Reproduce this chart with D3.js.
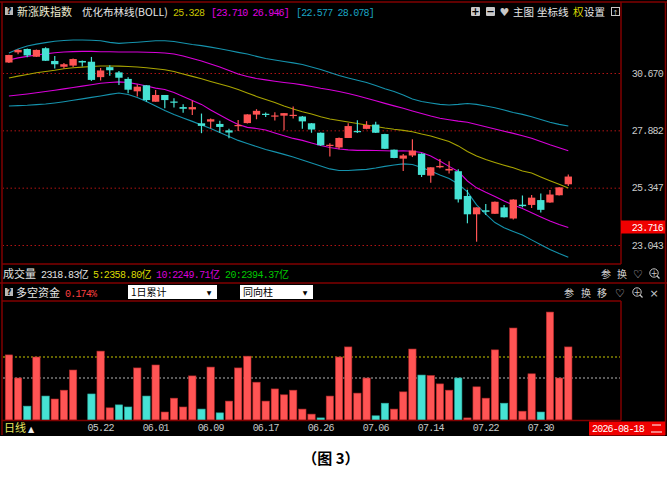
<!DOCTYPE html>
<html>
<head>
<meta charset="utf-8">
<script src="https://cdn.jsdelivr.net/npm/d3@7"></script>
<style>
  html, body { margin: 0; padding: 0; background: #fff; }
  svg { display: block; }
</style>
</head>
<body>
<svg id="chart" width="667" height="485"></svg>
<script>
// Daily index candles + BOLL bands, with the long/short money-flow bars underneath

const dates = ['05.08','05.11','05.12','05.13','05.14','05.15','05.18','05.19','05.20','05.21',
  '05.22','05.25','05.26','05.27','05.28','05.29','06.01','06.02','06.03','06.04',
  '06.05','06.08','06.09','06.10','06.11','06.12','06.15','06.16','06.17','06.18',
  '06.22','06.23','06.24','06.25','06.26','06.29','06.30','07.01','07.02','07.03',
  '07.06','07.07','07.08','07.09','07.10','07.13','07.14','07.15','07.16','07.17',
  '07.20','07.21','07.22','07.23','07.24','07.27','07.28','07.29','07.30','07.31',
  '08.03','08.04'];

const openP = [31.21,31.74,31.92,31.51,31.96,31.29,30.99,31.05,31.29,31.25,
  30.46,30.97,30.70,30.37,29.75,30.05,29.24,29.57,29.25,28.98,
  28.87,28.21,28.29,28.18,27.88,28.08,28.22,28.62,28.66,28.53,
  28.57,28.57,28.53,28.21,27.77,27.18,27.10,27.53,27.85,27.95,
  28.15,27.71,27.00,26.60,26.74,26.82,25.86,26.22,26.08,26.05,
  25.00,24.25,24.41,24.27,24.53,24.08,24.64,24.63,24.83,24.73,
  25.03,25.49];
const highP = [31.62,31.90,31.94,31.89,32.01,31.55,31.18,31.42,31.31,31.50,
  30.93,31.07,30.77,30.45,30.09,30.06,29.82,29.57,29.41,29.12,
  29.29,28.67,28.44,28.33,27.96,28.37,28.64,28.88,28.72,28.73,
  28.70,29.01,28.56,28.22,27.78,27.29,27.55,28.21,28.35,28.31,
  28.28,27.72,27.01,26.81,27.47,26.84,26.22,26.58,26.49,26.14,
  25.26,24.53,24.67,24.77,24.63,24.86,25.02,25.04,25.10,25.25,
  25.37,25.91];
const lowP = [31.19,31.64,31.48,31.50,31.29,30.90,30.90,30.98,31.00,30.27,
  30.29,30.53,30.06,29.65,29.49,29.24,29.24,28.92,28.96,28.71,
  28.60,27.75,27.97,27.77,27.52,27.85,28.20,28.40,28.51,28.34,
  27.88,28.44,27.95,27.77,27.17,26.69,27.02,27.53,27.76,27.93,
  27.76,27.03,26.62,26.06,26.67,25.80,25.56,26.18,25.95,24.73,
  23.89,23.17,24.22,24.26,24.12,24.04,24.53,24.50,24.32,24.72,
  25.02,25.42];
const closeP = [31.60,31.87,31.58,31.87,31.30,31.12,31.12,31.39,31.21,30.32,
  30.80,30.81,30.43,29.83,29.98,29.32,29.57,29.32,29.19,28.90,
  28.98,28.09,28.40,28.04,27.78,28.13,28.63,28.80,28.61,28.58,
  28.69,28.61,28.30,27.92,27.20,27.22,27.53,28.08,27.80,28.13,
  27.77,27.04,26.63,26.74,26.96,25.89,26.22,26.28,26.15,24.86,
  24.25,24.53,24.35,24.76,24.13,24.85,24.58,24.93,24.43,25.06,
  25.36,25.82];

// BOLL: middle line, inner band (magenta), outer band (teal)
const bollMid = [30.42,30.51,30.59,30.68,30.75,30.81,30.89,30.94,30.97,31.00,
  31.03,31.03,31.02,31.00,30.98,30.94,30.89,30.84,30.75,30.62,
  30.50,30.38,30.24,30.11,29.99,29.84,29.67,29.50,29.35,29.20,
  29.03,28.89,28.76,28.65,28.52,28.41,28.34,28.27,28.20,28.13,
  28.06,27.99,27.93,27.88,27.82,27.71,27.62,27.49,27.37,27.17,
  26.92,26.72,26.56,26.43,26.31,26.20,26.06,25.97,25.80,25.64,
  25.49,25.33];
const bollUp1 = [31.34,31.45,31.53,31.60,31.66,31.72,31.76,31.78,31.79,31.79,
  31.77,31.77,31.76,31.76,31.76,31.75,31.73,31.71,31.65,31.55,
  31.42,31.29,31.13,30.98,30.80,30.62,30.49,30.39,30.32,30.25,
  30.19,30.14,30.07,29.99,29.90,29.83,29.74,29.64,29.53,29.41,
  29.29,29.16,29.04,28.92,28.79,28.67,28.55,28.45,28.38,28.31,
  28.26,28.15,28.05,27.94,27.84,27.74,27.63,27.52,27.37,27.22,
  27.09,26.95];
const bollDn1 = [29.52,29.57,29.62,29.68,29.74,29.80,29.87,29.94,30.01,30.08,
  30.15,30.19,30.22,30.19,30.11,30.01,29.91,29.84,29.69,29.50,
  29.30,29.11,28.84,28.60,28.37,28.15,28.02,27.97,27.90,27.76,
  27.63,27.51,27.42,27.30,27.19,27.10,27.03,26.99,26.97,26.97,
  26.96,26.95,26.94,26.95,26.93,26.87,26.72,26.50,26.26,26.04,
  25.63,25.34,25.15,24.98,24.79,24.63,24.48,24.31,24.14,23.98,
  23.84,23.72];
const bollUp2 = [31.71,31.92,32.08,32.18,32.26,32.33,32.37,32.40,32.40,32.39,
  32.36,32.27,32.22,32.25,32.28,32.32,32.36,32.36,32.32,32.24,
  32.16,32.10,32.02,31.93,31.84,31.74,31.65,31.53,31.42,31.34,
  31.26,31.19,31.11,30.98,30.85,30.70,30.54,30.42,30.30,30.19,
  30.04,29.88,29.74,29.57,29.37,29.25,29.18,29.11,29.08,29.11,
  29.15,29.11,29.03,28.95,28.84,28.72,28.63,28.52,28.39,28.26,
  28.16,28.08];
const bollDn2 = [29.03,29.05,29.07,29.10,29.13,29.18,29.24,29.31,29.38,29.45,
  29.52,29.60,29.67,29.59,29.45,29.25,29.03,28.82,28.63,28.46,
  28.30,28.13,27.97,27.78,27.60,27.42,27.28,27.14,27.01,26.90,
  26.79,26.67,26.54,26.41,26.28,26.15,26.08,26.08,26.11,26.13,
  26.19,26.26,26.32,26.37,26.34,26.21,26.06,25.89,25.74,25.50,
  25.17,24.63,24.26,23.92,23.71,23.57,23.43,23.24,23.05,22.87,
  22.72,22.58];

// 多空资金 (%) and bar direction: 1 = red, -1 = cyan
const flowPct = [0.155,0.100,0.033,0.150,0.057,0.050,0.071,0.119,0.000,0.062,
  0.164,0.029,0.036,0.031,0.124,0.057,0.131,0.019,0.052,0.031,
  0.105,0.026,0.126,0.017,0.045,0.124,0.152,0.090,0.045,0.074,
  0.060,0.071,0.026,0.014,0.005,0.057,0.150,0.174,0.064,0.100,
  0.010,0.040,0.026,0.067,0.169,0.107,0.106,0.086,0.071,0.100,
  0.005,0.079,0.052,0.167,0.040,0.219,0.021,0.110,0.019,0.257,
  0.100,0.174];
const flowDir = [1,1,-1,1,-1,1,1,1,1,-1,
  1,1,-1,-1,1,-1,1,1,1,1,
  1,-1,1,-1,1,1,1,1,1,1,
  1,1,1,1,-1,1,1,1,1,1,
  -1,-1,1,1,1,-1,1,1,1,-1,
  1,1,1,1,-1,1,1,1,-1,1,
  1,1];

const priceTicks = [30.670, 27.882, 25.347, 23.043];
const flowTicks = [0.150, 0.100, 0.000];
const dateTicks = ['05.22','06.01','06.09','06.17','06.26','07.06','07.14','07.22','07.30'];

const RED = '#ff5454', CYAN = '#46e2d4', FRAME = '#800000';
const MONO = "'Liberation Mono','Noto Sans CJK SC',monospace";
const CJK = "'Noto Sans CJK SC',sans-serif";

const svg = d3.select('#chart');
const plotL = 3, plotR = 620;

// black terminal background, white caption strip below
svg.append('rect').attr('width', 667).attr('height', 436).attr('fill', '#000');

// scales
const x = d3.scaleBand().domain(dates).range([3.4, 573.8]).padding(0.2);
const bw = x.bandwidth();
const cx = d => x(d) + bw / 2;
const y = d3.scaleLog().domain([23.043, 30.670]).range([245, 73]);
const yf = d3.scaleLinear().domain([0, 0.15]).range([420, 357]);

const defs = svg.append('defs');
defs.append('clipPath').attr('id', 'mainClip')
  .append('rect').attr('x', plotL).attr('y', 21).attr('width', plotR - plotL).attr('height', 242);
defs.append('clipPath').attr('id', 'axisClip')
  .append('rect').attr('x', 621).attr('y', 300).attr('width', 46).attr('height', 122);

// price gridlines
const grid = svg.append('g').attr('transform', `translate(${plotR},0)`)
  .call(d3.axisLeft(y).tickValues(priceTicks).tickSize(plotR - plotL).tickFormat(''));
grid.select('.domain').remove();
grid.selectAll('line').attr('stroke', '#b01414').attr('stroke-dasharray', '1.5,2.5');

// price labels
const pAxis = svg.append('g').attr('transform', 'translate(663,0)')
  .call(d3.axisLeft(y).tickValues(priceTicks).tickSize(0).tickPadding(0).tickFormat(d3.format('.3f')));
pAxis.select('.domain').remove();
pAxis.selectAll('text').attr('fill', '#c8c8c8').attr('font-family', MONO)
  .attr('font-size', 10).attr('letter-spacing', -0.8);

// BOLL lines
const main = svg.append('g').attr('clip-path', 'url(#mainClip)');
const line = d3.line().x((v, i) => cx(dates[i])).y(v => y(v));
[[bollUp2, '#1592ac'], [bollDn2, '#1592ac'], [bollUp1, '#d800d8'], [bollDn1, '#d800d8'], [bollMid, '#a8a400']]
  .forEach(([s, c]) => {
    main.append('path').datum(s).attr('fill', 'none').attr('stroke', c)
      .attr('stroke-width', 1.1).attr('d', line);
  });

// candles
const candles = dates.map((d, i) => ({ d, o: openP[i], h: highP[i], l: lowP[i], c: closeP[i] }));
const cg = main.selectAll('.candle').data(candles).enter().append('g').attr('class', 'candle');
cg.append('line')
  .attr('x1', d => cx(d.d)).attr('x2', d => cx(d.d))
  .attr('y1', d => y(d.h)).attr('y2', d => y(d.l))
  .attr('stroke', d => d.c >= d.o ? RED : CYAN).attr('stroke-width', 1.2);
cg.append('rect')
  .attr('x', d => x(d.d)).attr('width', bw)
  .attr('y', d => y(Math.max(d.o, d.c)))
  .attr('height', d => Math.max(1.2, Math.abs(y(d.o) - y(d.c))))
  .attr('fill', d => d.c >= d.o ? RED : CYAN);

// flow panel gridlines
svg.append('line').attr('x1', plotL).attr('x2', plotR).attr('y1', yf(0.15)).attr('y2', yf(0.15))
  .attr('stroke', '#c8c800').attr('stroke-dasharray', '2,2');
svg.append('line').attr('x1', plotL).attr('x2', plotR).attr('y1', yf(0.10)).attr('y2', yf(0.10))
  .attr('stroke', '#b4b4b4').attr('stroke-dasharray', '2,2');

// flow bars
svg.selectAll('.fbar').data(flowPct).enter().append('rect').attr('class', 'fbar')
  .attr('x', (v, i) => x(dates[i])).attr('width', bw)
  .attr('y', v => yf(v)).attr('height', v => yf(0) - yf(v))
  .attr('fill', (v, i) => flowDir[i] > 0 ? RED : CYAN)
  .attr('stroke', (v, i) => flowDir[i] > 0 ? '#b02828' : '#2aa89c').attr('stroke-width', 0.6);

// flow labels
const fAxis = svg.append('g').attr('transform', 'translate(663,0)').attr('clip-path', 'url(#axisClip)')
  .call(d3.axisLeft(yf).tickValues(flowTicks).tickSize(0).tickPadding(0).tickFormat(d => d.toFixed(3) + '%'));
fAxis.select('.domain').remove();
fAxis.selectAll('text').attr('font-family', MONO).attr('font-size', 10).attr('letter-spacing', -0.8)
  .attr('fill', d => d === 0.15 ? '#d0d000' : '#c8c8c8');

// date axis
const xAxis = svg.append('g').attr('transform', 'translate(0,421)')
  .call(d3.axisBottom(x).tickValues(dateTicks).tickSize(0).tickPadding(3));
xAxis.select('.domain').remove();
xAxis.selectAll('text').attr('fill', '#c8c8c8').attr('font-family', MONO)
  .attr('font-size', 10).attr('letter-spacing', -0.8);

// frame lines
const fr = svg.append('g').attr('stroke', FRAME).attr('stroke-width', 1.5);
[[0, 667, 2, 2], [2, 621, 264, 264], [0, 667, 283, 283], [2, 621, 301, 301], [2, 621, 420.5, 420.5]]
  .forEach(([a, b, c, d]) => fr.append('line').attr('x1', a).attr('x2', b).attr('y1', c).attr('y2', d));
[[2, 2, 2, 435], [621, 621, 2, 264], [621, 621, 301, 420.5], [665.5, 665.5, 2, 435]]
  .forEach(([a, b, c, d]) => fr.append('line').attr('x1', a).attr('x2', b).attr('y1', c).attr('y2', d));

// helpers for text
function txt(s, px, py, fill, fam, size, anchor) {
  return svg.append('text').attr('x', px).attr('y', py).attr('fill', fill)
    .attr('font-family', fam).attr('font-size', size).attr('text-anchor', anchor || 'start').text(s);
}
function qbox(px, py) {
  svg.append('rect').attr('x', px).attr('y', py).attr('width', 8).attr('height', 8).attr('fill', '#b8b8b8');
  txt('?', px + 4, py + 7, '#000', 'DejaVu Sans', 8, 'middle').attr('font-weight', 'bold');
}

// header row
qbox(5, 7);
txt('新涨跌指数', 17, 16, '#ecead0', CJK, 11);
txt('优化布林线(BOLL)', 82, 16, '#e6e6e6', CJK, 10.5);
txt('25.328', 173, 15.5, '#c8c400', MONO, 10).attr('letter-spacing', -0.8);
txt('[23.710 26.946]', 211, 15.5, '#e000e0', MONO, 10).attr('letter-spacing', -0.8);
txt('[22.577 28.078]', 296, 15.5, '#1aa4c4', MONO, 10).attr('letter-spacing', -0.8);

svg.append('rect').attr('x', 471).attr('y', 7).attr('width', 9).attr('height', 9).attr('fill', '#c8c8c8').attr('rx', 1);
txt('+', 475.5, 15, '#000', 'DejaVu Sans', 10, 'middle').attr('font-weight', 'bold');
svg.append('rect').attr('x', 486).attr('y', 7).attr('width', 9).attr('height', 9).attr('fill', '#c8c8c8').attr('rx', 1);
txt('−', 490.5, 15, '#000', 'DejaVu Sans', 10, 'middle').attr('font-weight', 'bold');
txt('♥', 504.5, 16, '#c8c8c8', 'DejaVu Sans', 11, 'middle');
txt('主图', 513, 16, '#e6e6e6', CJK, 10.5);
txt('坐标线', 537, 16, '#e6e6e6', CJK, 10.5);
txt('权', 573, 16, '#d8d800', CJK, 10.5);
txt('设置', 584, 16, '#e6e6e6', CJK, 10.5);
svg.append('rect').attr('x', 611.5).attr('y', 7.5).attr('width', 8).attr('height', 8)
  .attr('fill', 'none').attr('stroke', '#c8c8c8');
txt('↑', 615.5, 14.5, '#c8c8c8', 'DejaVu Sans', 7, 'middle');

// current price tag
svg.append('rect').attr('x', 621).attr('y', 220.5).attr('width', 44).attr('height', 13).attr('fill', '#f00000');
txt('23.716', 663, 230.5, '#fff', MONO, 10, 'end').attr('letter-spacing', -0.8);

// volume row
txt('成交量', 3, 278, '#e0e0e0', CJK, 11);
txt('2318.83亿', 41, 278, '#e0e0e0', MONO, 10).attr('letter-spacing', -0.6);
txt('5:2358.80亿', 93, 278, '#d8d800', MONO, 10).attr('letter-spacing', -0.6);
txt('10:2249.71亿', 156, 278, '#d800d8', MONO, 10).attr('letter-spacing', -0.6);
txt('20:2394.37亿', 225, 278, '#00c800', MONO, 10).attr('letter-spacing', -0.6);

function zoomIcon(px, py) {
  svg.append('circle').attr('cx', px).attr('cy', py).attr('r', 4.2)
    .attr('fill', 'none').attr('stroke', '#c8c8c8').attr('stroke-width', 1);
  svg.append('line').attr('x1', px + 3).attr('y1', py + 3).attr('x2', px + 5.5).attr('y2', py + 5.5)
    .attr('stroke', '#c8c8c8').attr('stroke-width', 1.2);
  txt('+', px, py + 3, '#c8c8c8', 'DejaVu Sans', 8, 'middle');
}
txt('参', 601, 278, '#d0d0d0', CJK, 10);
txt('换', 617, 278, '#d0d0d0', CJK, 10);
txt('♡', 638, 278, '#d0d0d0', 'DejaVu Sans', 11, 'middle');
zoomIcon(654, 273);

// money-flow header row
qbox(5, 288);
txt('多空资金', 16, 297, '#e6e6e6', CJK, 11);
txt('0.174%', 65, 296.5, '#ff4040', MONO, 10).attr('letter-spacing', -0.8);

function dropdown(px, w, label) {
  svg.append('rect').attr('x', px).attr('y', 285).attr('width', w).attr('height', 14).attr('fill', '#fff');
  txt(label, px + 3, 296, '#000', CJK, 10);
  txt('▼', px + w - 8, 295, '#000', 'DejaVu Sans', 6, 'middle');
}
dropdown(128, 89, '1日累计');
dropdown(240, 73, '同向柱');

txt('参', 564, 297, '#d0d0d0', CJK, 10);
txt('换', 581, 297, '#d0d0d0', CJK, 10);
txt('移', 597, 297, '#d0d0d0', CJK, 10);
txt('♡', 620, 297, '#d0d0d0', 'DejaVu Sans', 11, 'middle');
zoomIcon(637, 292);
txt('×', 654, 297, '#c8c8c8', 'DejaVu Sans', 11, 'middle');

// bottom row
txt('日线', 4, 432, '#e8e860', CJK, 11);
txt('▲', 31, 431.5, '#f0f0f0', 'DejaVu Sans', 8, 'middle');
svg.append('rect').attr('x', 589).attr('y', 421.5).attr('width', 76).attr('height', 14).attr('fill', '#f00000');
txt('2026-08-18', 592, 432, '#fff', MONO, 10).attr('letter-spacing', -0.8);
svg.append('line').attr('x1', 652).attr('x2', 661).attr('y1', 425).attr('y2', 425).attr('stroke', '#fff');
svg.append('line').attr('x1', 651).attr('x2', 662).attr('y1', 432).attr('y2', 432).attr('stroke', '#fff');

// caption
txt('（图 3）', 331, 464, '#000', CJK, 15, 'middle').attr('font-weight', 'bold');
</script>
</body>
</html>
